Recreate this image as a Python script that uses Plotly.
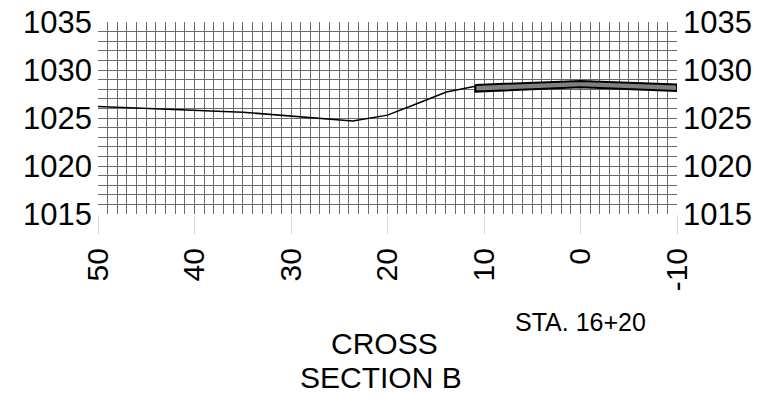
import plotly.graph_objects as go

# existing ground profile (offset, elevation)
ground_offset = [50, 35, 23.6, 20, 17.3, 13.9, 10.9]
ground_elev = [1026.2, 1025.6, 1024.7, 1025.3, 1026.35, 1027.7, 1028.3]

# proposed road section
road_offset = [10.9, 0, -10]
road_top = [1028.45, 1028.85, 1028.5]
road_bottom = [1027.75, 1028.2, 1027.8]

x_ticks = [50, 40, 30, 20, 10, 0, -10]
x_labels = ["50", "40", "30", "20", "10", "0", "-10"]
y_ticks = [1015, 1020, 1025, 1030, 1035]
y_labels = [str(v) for v in y_ticks]

FONT = "Liberation Sans, Arial, sans-serif"
GRID = "#6b6b6b"

layout = go.Layout(
    width=758,
    height=403,
    paper_bgcolor="white",
    plot_bgcolor="white",
    font=dict(family=FONT, color="black", size=30),
    margin=dict(l=98, r=81, t=22, b=189),
    showlegend=False,
)
fig = go.Figure(layout=layout)

fig.add_trace(
    go.Scatter(
        x=ground_offset,
        y=ground_elev,
        mode="lines",
        line=dict(color="black", width=1.5),
        hoverinfo="skip",
    )
)

fig.add_trace(
    go.Scatter(
        x=road_offset + road_offset[::-1] + road_offset[:1],
        y=road_top + road_bottom[::-1] + road_top[:1],
        mode="lines",
        fill="toself",
        fillcolor="#808080",
        line=dict(color="black", width=2),
        hoverinfo="skip",
    )
)

# invisible trace to carry the right-hand axis
fig.add_trace(
    go.Scatter(x=[None], y=[None], yaxis="y2", hoverinfo="skip")
)

fig.update_xaxes(
    range=[50, -10],
    tickvals=x_ticks,
    ticktext=x_labels,
    tickangle=-90,
    ticks="outside",
    ticklen=19,
    tickcolor="#d9d9d9",
    ticklabelstandoff=2,
    ticklabeloverflow="allow",
    showgrid=True,
    gridcolor=GRID,
    gridwidth=1,
    minor=dict(dtick=1, showgrid=True, gridcolor=GRID, gridwidth=1),
    zeroline=False,
    showline=False,
    automargin=False,
    tickfont=dict(size=30),
)

fig.update_yaxes(
    range=[1015, 1035],
    tickvals=y_ticks,
    ticktext=y_labels,
    showgrid=True,
    gridcolor=GRID,
    gridwidth=1,
    minor=dict(dtick=1, showgrid=True, gridcolor=GRID, gridwidth=1),
    zeroline=False,
    showline=False,
    ticks="",
    ticklabelstandoff=5,
    ticklabeloverflow="allow",
    automargin=False,
    tickfont=dict(size=31),
)

fig.update_layout(
    yaxis2=dict(
        overlaying="y",
        side="right",
        range=[1015, 1035],
        tickvals=y_ticks,
        ticktext=y_labels,
        showgrid=False,
        zeroline=False,
        showline=False,
        ticks="",
        ticklabelstandoff=5,
        ticklabeloverflow="allow",
        automargin=False,
        tickfont=dict(size=31),
    )
)

fig.add_annotation(
    text="STA. 16+20", xref="paper", yref="paper", x=0.8325, y=-0.56,
    showarrow=False, font=dict(size=25), xanchor="center", yanchor="middle",
)
fig.add_annotation(
    text="CROSS", xref="paper", yref="paper", x=0.494, y=-0.672,
    showarrow=False, font=dict(size=30), xanchor="center", yanchor="middle",
)
fig.add_annotation(
    text="SECTION B", xref="paper", yref="paper", x=0.489, y=-0.854,
    showarrow=False, font=dict(size=30), xanchor="center", yanchor="middle",
)

# drop the default 8px page margin so the figure sits flush with the window
fig.write_html(
    "out.html",
    config={"displayModeBar": False},
    post_script="document.body.style.margin='0';",
)
